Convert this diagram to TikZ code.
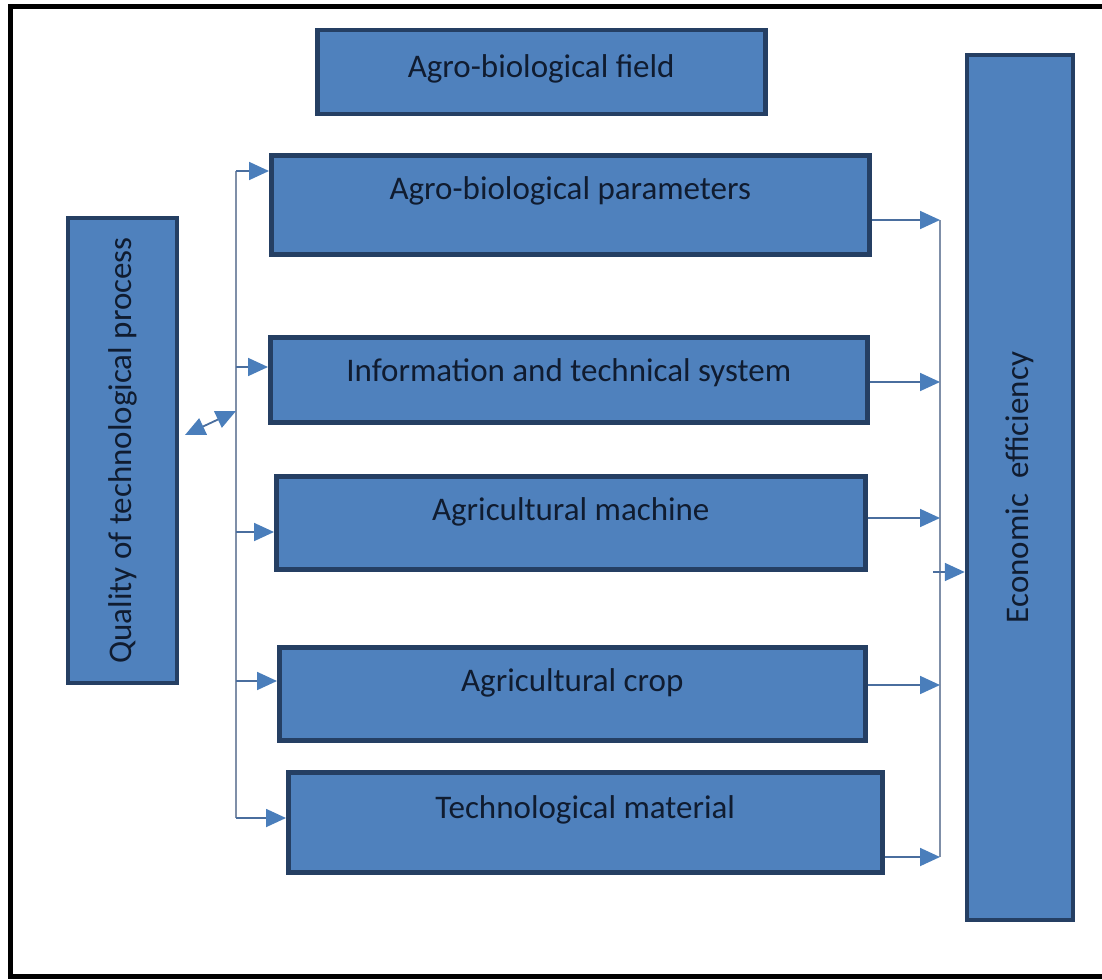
\documentclass[tikz,border=0pt]{standalone}
\usepackage{fontspec}
\setmainfont{Carlito}
\usetikzlibrary{arrows.meta}
\definecolor{boxfill}{HTML}{4F81BD}
\definecolor{boxline}{HTML}{253F63}
\definecolor{txt}{HTML}{101C30}
\definecolor{arrline}{HTML}{4A6E9E}
\definecolor{arrhead}{HTML}{4A7EBB}
\definecolor{busline}{HTML}{7F8FA8}
\tikzset{
  blockbox/.style={draw=boxline, fill=boxfill, line width=4.5pt, inner sep=0pt,
    text=txt, font=\fontsize{33}{38}\selectfont, anchor=north west},
  tallbox/.style={draw=boxline, fill=boxfill, line width=4.5pt, inner sep=0pt,
    text=txt, font=\fontsize{33}{38}\selectfont, rotate=90},
  arr/.style={draw=arrline, line width=1.8pt,
    -{Triangle[length=20pt,width=18pt,color=arrhead]}},
  dblarr/.style={draw=arrline, line width=1.8pt,
    {Triangle[length=20pt,width=18pt,color=arrhead]}-{Triangle[length=20pt,width=18pt,color=arrhead]}},
  bus/.style={draw=busline, line width=1.5pt}
}
\begin{document}
\begin{tikzpicture}[x=1pt,y=-1pt]
\useasboundingbox (0,0) rectangle (1102,979);
%frame, open on the right
\draw[line width=5pt] (1102,7) -- (10,7) -- (10,976) -- (1102,976);
%top box
\node[blockbox, minimum width=448, text height=47, text depth=37] (field) at (315,28) {Agro-biological field};
%middle column
\node[blockbox, minimum width=598, text height=44, text depth=55] (params) at (269,153) {Agro-biological parameters};
\node[blockbox, minimum width=597, text height=44, text depth=41] (info) at (268,335) {Information and technical system};
\node[blockbox, minimum width=589, text height=44, text depth=49] (machine) at (274,474) {Agricultural machine};
\node[blockbox, minimum width=586, text height=44, text depth=49] (crop) at (277,645) {Agricultural crop};
\node[blockbox, minimum width=594, text height=46, text depth=54] (material) at (286,770) {Technological material};
%side boxes
\node[tallbox, minimum width=465, minimum height=109] (quality) at (122.5,450.5) {Quality of technological process};
\node[tallbox, minimum width=865, minimum height=106] (econ) at (1020,487.5) {Economic\ \ efficiency};
%left bus
\coordinate (l1) at (236,171);
\coordinate (l2) at (236,367);
\coordinate (l3) at (236,532);
\coordinate (l4) at (236,681);
\coordinate (l5) at (236,818);
\coordinate (lq) at (236,411);
\coordinate (q0) at (185,435);
\draw[bus] (l1) -- (l5);
\draw[arr] (l1) -- (l1 -| params.west);
\draw[arr] (l2) -- (l2 -| info.west);
\draw[arr] (l3) -- (l3 -| machine.west);
\draw[arr] (l4) -- (l4 -| crop.west);
\draw[arr] (l5) -- (l5 -| material.west);
\draw[dblarr] (q0) -- (lq);
%right bus
\coordinate (r1) at (940,220);
\coordinate (r2) at (940,382);
\coordinate (r3) at (940,518);
\coordinate (r4) at (940,685);
\coordinate (r5) at (940,857);
\coordinate (e0) at (933,572);
\draw[bus] (r1) -- (r5);
\draw[arr] (params.east |- r1) -- (r1);
\draw[arr] (info.east |- r2) -- (r2);
\draw[arr] (machine.east |- r3) -- (r3);
\draw[arr] (crop.east |- r4) -- (r4);
\draw[arr] (material.east |- r5) -- (r5);
\draw[arr] (e0) -- (e0 -| econ.north);
\end{tikzpicture}
\end{document}
